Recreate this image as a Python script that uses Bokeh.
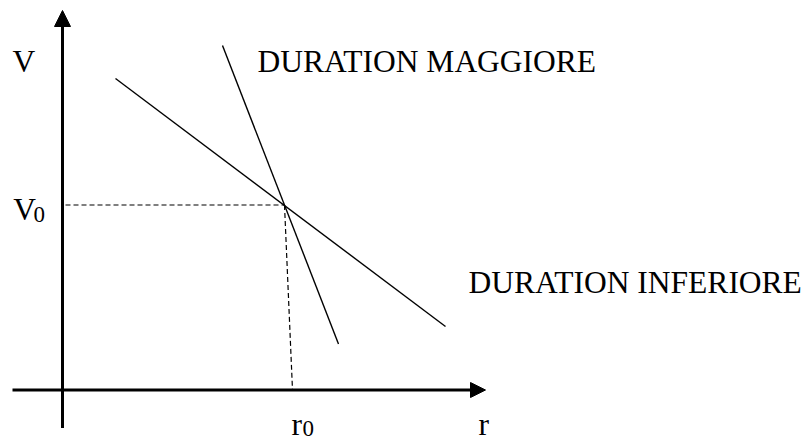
from bokeh.plotting import figure
from bokeh.models import Range1d, Arrow, NormalHead
from bokeh.core.properties import value
from bokeh.embed import file_html
from bokeh.resources import INLINE

# Coordinates: r to the right, V upward, origin where the two axes cross
r_axis = [-50, 423]      # horizontal axis extent (arrow at the right end)
v_axis = [-38, 379.5]    # vertical axis extent (arrow at the top end)

# Reference point (r0, V0)
r0 = 222
v0 = 185
r0_foot = 230            # where the dashed drop meets the r axis
v0_start = 3             # where the dashed V0 guide starts

# Two value/rate lines crossing at (r0, V0)
low_dur_r = [53, 383]
low_dur_v = [311.5, 63.5]
high_dur_r = [160, 276]
high_dur_v = [344.5, 46]

# Main labels (anchored at the centre of the em box)
label_text = ["V", "V", "DURATION MAGGIORE", "DURATION INFERIORE", "r", "r"]
label_x = [-50, -49.3, 195, 406, 416, 229]
label_y = [328.1, 180.1, 328.1, 107.1, -34.2, -34.2]

# Subscript zeros for V0 and r0
sub_text = ["0", "0"]
sub_x = [-29, 240]
sub_y = [175.8, -38.0]

p = figure(width=805, height=443, output_backend="svg", toolbar_location=None,
           x_range=Range1d(-62, 743), y_range=Range1d(-53.5, 389.5),
           min_border=0, background_fill_color="white",
           border_fill_color="white")
p.axis.visible = False
p.grid.visible = False
p.outline_line_color = None

# Axes with arrow heads
p.add_layout(Arrow(x_start=r_axis[0], y_start=0, x_end=r_axis[1], y_end=0,
                   line_width=3, line_color="black",
                   end=NormalHead(size=15, fill_color="black",
                                  line_color="black", line_width=1)))
p.add_layout(Arrow(x_start=0, y_start=v_axis[0], x_end=0, y_end=v_axis[1],
                   line_width=3, line_color="black",
                   end=NormalHead(size=16, fill_color="black",
                                  line_color="black", line_width=1)))

# Dashed guides to r0 and V0
p.line([v0_start, r0], [v0, v0], line_color="black", line_width=1.2,
       line_dash="5 3")
p.line([r0, r0_foot], [v0, 0], line_color="black", line_width=1.2,
       line_dash="5 3")

# The two lines
p.line(low_dur_r, low_dur_v, line_color="black", line_width=1.4)
p.line(high_dur_r, high_dur_v, line_color="black", line_width=1.4)

p.text(x=label_x, y=label_y, text=label_text,
       text_font=value("Liberation Serif"),
       text_font_size=value("31.5px"), text_color="black",
       text_baseline="alphabetic")
p.text(x=sub_x, y=sub_y, text=sub_text,
       text_font=value("Liberation Serif"),
       text_font_size=value("23px"), text_color="black",
       text_baseline="alphabetic")

open("out.html", "w").write(file_html(p, INLINE))
